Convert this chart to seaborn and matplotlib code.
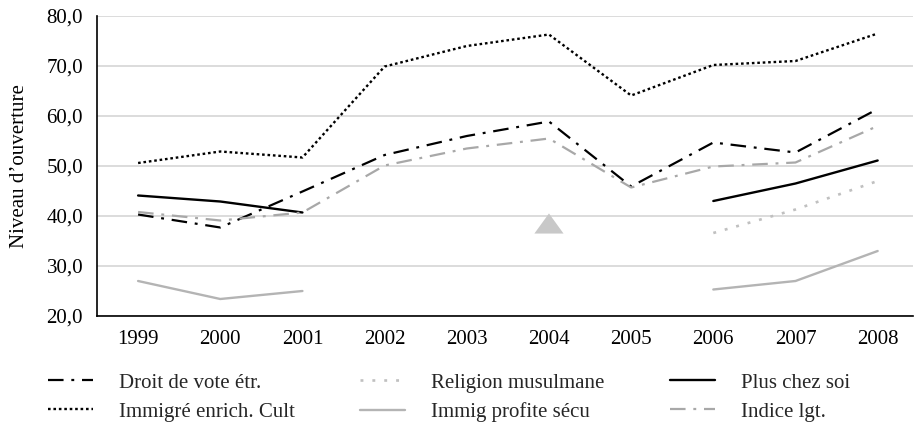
import numpy as np
import pandas as pd
import matplotlib
matplotlib.use("Agg")
import matplotlib.pyplot as plt
import seaborn as sns

years = ["1999", "2000", "2001", "2002", "2003", "2004", "2005", "2006", "2007", "2008"]
nan = np.nan
droit_vote = [40.3, 37.7, 44.9, 52.2, 56.0, 58.9, 45.9, 54.7, 52.7, 61.4]
immigre_enrich = [50.6, 52.9, 51.7, 69.9, 74.0, 76.3, 64.1, 70.2, 71.0, 76.5]
religion_musulmane = [nan, nan, nan, nan, nan, 38.5, nan, 36.6, 41.3, 47.0]
immig_profite = [27.0, 23.4, 25.0, nan, nan, nan, nan, 25.3, 27.0, 33.0]
plus_chez_soi = [44.1, 42.9, 40.7, nan, nan, nan, nan, 43.0, 46.5, 51.1]
indice_lgt = [40.8, 39.1, 40.7, 50.1, 53.5, 55.5, 45.7, 49.9, 50.7, 58.0]

series_names = ["Droit de vote étr.", "Immigré enrich. Cult", "Religion musulmane",
                "Immig profite sécu", "Plus chez soi", "Indice lgt."]
series_values = [droit_vote, immigre_enrich, religion_musulmane,
                 immig_profite, plus_chez_soi, indice_lgt]

styles = {
    "Droit de vote étr.": dict(color="#000000", linestyle=(0, (7, 3.5, 1.3, 3.5)), lw=1.6),
    "Immigré enrich. Cult": dict(color="#000000", linestyle=(0, (1.1, 1.2)), lw=1.7),
    "Religion musulmane": dict(color="#c0c0c0", linestyle=(0, (1.1, 3.4)), lw=1.9),
    "Immig profite sécu": dict(color="#b4b4b4", linestyle="-", lw=1.7),
    "Plus chez soi": dict(color="#000000", linestyle="-", lw=1.7),
    "Indice lgt.": dict(color="#a8a8a8", linestyle=(0, (7, 3.5, 1.3, 3.5)), lw=1.6),
}

sns.set_theme(style="white")
plt.rcParams["font.family"] = ["Liberation Serif", "DejaVu Serif"]
plt.rcParams["font.size"] = 15

fig = plt.figure(figsize=(9.17, 4.22), dpi=100)
ax = fig.add_axes([97 / 917, 1 - 316 / 422, 816 / 917, 300 / 422])

xpos = np.arange(len(years))
for name, vals in zip(series_names, series_values):
    df = pd.DataFrame({"x": xpos, "y": vals})
    valid = df["y"].notna()
    seg_id = (valid != valid.shift()).cumsum()
    first = True
    st = styles[name]
    for _, seg in df[valid].groupby(seg_id[valid]):
        if len(seg) >= 2:
            sns.lineplot(data=seg, x="x", y="y", ax=ax, color=st["color"],
                         linestyle=st["linestyle"], linewidth=st["lw"],
                         label=name if first else None, estimator=None, sort=False)
            first = False
        else:
            sns.scatterplot(data=seg, x="x", y="y", ax=ax, color="#c8c8c8",
                            marker=[(-1, -0.69), (1, -0.69), (0, 0.69)],
                            s=21 ** 2, edgecolor="none", legend=False, zorder=3)

ax.set_xlim(-0.5, 9.43)
ax.set_ylim(20, 80)
ax.set_yticks([20, 30, 40, 50, 60, 70, 80])
ax.set_yticklabels([f"{v},0" for v in [20, 30, 40, 50, 60, 70, 80]])
ax.set_xticks(xpos)
ax.set_xticklabels(years)
ax.yaxis.grid(True, color="#d9d9d9", linewidth=1.3)
ax.xaxis.grid(False)
ax.set_axisbelow(True)
for s in ["top", "right"]:
    ax.spines[s].set_visible(False)
for s in ["left", "bottom"]:
    ax.spines[s].set_color("#000000")
    ax.spines[s].set_linewidth(1.2)
ax.tick_params(axis="both", length=0, labelsize=15, colors="#000000")
ax.tick_params(axis="y", pad=10)
ax.tick_params(axis="x", pad=10)
ax.set_xlabel("")
ax.set_ylabel("Niveau d’ouverture", fontsize=15, color="#000000")
ax.yaxis.set_label_coords(-0.083, 0.5)

h, l = ax.get_legend_handles_labels()
if ax.get_legend() is not None:
    ax.get_legend().remove()
order = [l.index(n) for n in series_names]
fig.legend([h[i] for i in order], [l[i] for i in order], ncol=3,
           loc="upper left", bbox_to_anchor=(48 / 917, 1 - 373 / 422),
           frameon=False, fontsize=15, handlelength=2.15, handletextpad=1.25,
           columnspacing=3.15, labelspacing=0.46, borderpad=0, borderaxespad=0)

fig.savefig("out.png", dpi=100)
